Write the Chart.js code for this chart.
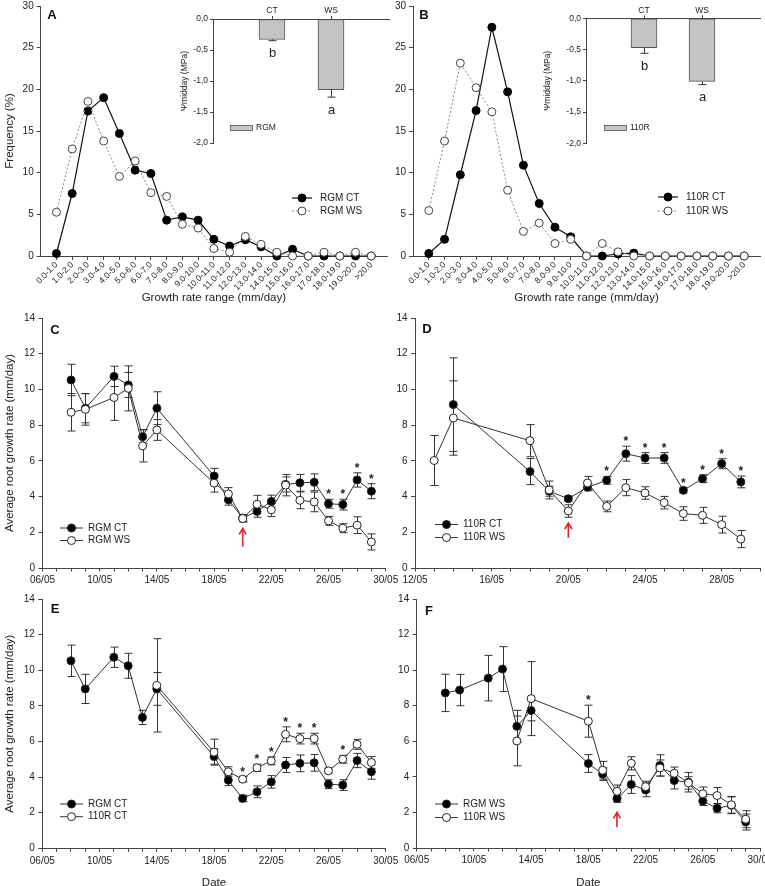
<!DOCTYPE html>
<html>
<head>
<meta charset="utf-8">
<script src="https://cdn.jsdelivr.net/npm/chart.js@4.4.1/dist/chart.umd.min.js"></script>
<style>
html,body{margin:0;padding:0;overflow:hidden;background:#fff;width:765px;height:886px;}
canvas{position:absolute;}
</style>
</head>
<body>
<script>
// ================= DATA =================
const freqCategories = ['0.0-1.0','1.0-2.0','2.0-3.0','3.0-4.0','4.0-5.0','5.0-6.0','6.0-7.0','7.0-8.0','8.0-9.0','9.0-10.0','10.0-11.0','11.0-12.0','12.0-13.0','13.0-14.0','14.0-15.0','15.0-16.0','16.0-17.0','17.0-18.0','18.0-19.0','19.0-20.0','>20.0'];
const freqRgmCT = [0.3, 7.5, 17.4, 19.0, 14.7, 10.3, 9.9, 4.3, 4.7, 4.3, 2.0, 1.2, 1.95, 1.1, 0, 0.8, 0, 0, 0, 0, 0];
const freqRgmWS = [5.25, 12.85, 18.55, 13.8, 9.55, 11.4, 7.6, 7.15, 3.8, 3.35, 0.9, 0.45, 2.35, 1.4, 0.45, 0, 0, 0.45, 0, 0.45, 0];
const freq110CT = [0.3, 2.0, 9.75, 17.45, 27.45, 19.7, 10.9, 6.3, 3.45, 2.3, 0, 0, 0.25, 0.35, 0, 0, 0, 0, 0, 0, 0];
const freq110WS = [5.45, 13.8, 23.15, 20.2, 17.3, 7.9, 2.95, 3.95, 1.5, 2.0, 0, 1.5, 0.5, 0, 0, 0, 0, 0, 0, 0, 0];

const psiGroups = ['CT', 'WS'];
const psiRgm = [-0.33, -1.14];
const psiRgmErr = [0.02, 0.12];
const psi110 = [-0.47, -1.01];
const psi110Err = [0.09, 0.05];
const psiLetters = ['b', 'a'];
const psiTicks = [0, -0.5, -1.0, -1.5, -2.0];

const rgmDays = [8, 9, 11, 12, 13, 14, 18, 19, 20, 21, 22, 23, 24, 25, 26, 27, 28, 29];
const rgmCT = [10.53, 8.95, 10.73, 10.25, 7.35, 8.95, 5.15, 3.82, 2.8, 3.17, 3.73, 4.68, 4.77, 4.8, 3.6, 3.55, 4.93, 4.3];
const rgmCTErr = [0.88, 0.82, 0.57, 0.7, 0.4, 0.92, 0.43, 0.3, 0.18, 0.33, 0.35, 0.42, 0.47, 0.47, 0.25, 0.3, 0.4, 0.42];
const rgmWS = [8.72, 8.88, 9.55, 10.06, 6.84, 7.73, 4.75, 4.15, 2.77, 3.57, 3.26, 4.64, 3.79, 3.7, 2.64, 2.23, 2.4, 1.46];
const rgmWSErr = [1.05, 0.88, 1.28, 1.26, 0.9, 0.58, 0.5, 0.35, 0.2, 0.5, 0.38, 0.6, 0.47, 0.55, 0.25, 0.25, 0.47, 0.45];

const r110CTDays = [14, 18, 19, 20, 21, 22, 23, 24, 25, 26, 27, 28, 29];
const r110CT = [9.15, 5.4, 4.3, 3.88, 4.52, 4.91, 6.4, 6.16, 6.16, 4.35, 5.0, 5.84, 4.82];
const r110CTErr = [2.62, 0.73, 0.28, 0.15, 0.2, 0.22, 0.42, 0.3, 0.3, 0.15, 0.22, 0.28, 0.33];
const r110WSDays = [13, 14, 18, 19, 20, 21, 22, 23, 24, 25, 26, 27, 28, 29];
const r110WS = [6.02, 8.4, 7.13, 4.37, 3.19, 4.76, 3.45, 4.5, 4.2, 3.66, 3.05, 2.95, 2.43, 1.62];
const r110WSErr = [1.4, 2.08, 0.9, 0.5, 0.35, 0.37, 0.3, 0.45, 0.35, 0.35, 0.38, 0.45, 0.47, 0.48];

const dateTicksFull = ['06/05', '10/05', '14/05', '18/05', '22/05', '26/05', '30/05'];
const dateTicksD = ['12/05', '16/05', '20/05', '24/05', '28/05'];
const starsC = [26, 27, 28, 29];
const starsD = [22, 23, 24, 25, 26, 27, 28, 29];
const starsE = [20, 21, 22, 23, 24, 25, 27];
const starsF = [18];

// ================= STYLE / HELPERS =================
const FONT = "'Liberation Sans', Arial, Helvetica, sans-serif";
const AX = '#444';
Chart.defaults.font.family = FONT;
Chart.defaults.color = '#222';
Chart.defaults.animation = false;
Chart.defaults.responsive = false;
Chart.defaults.plugins.legend.display = false;
Chart.defaults.plugins.tooltip.enabled = false;

function mk(left, top, w, h) {
  const c = document.createElement('canvas');
  c.width = w; c.height = h;
  c.style.left = left + 'px'; c.style.top = top + 'px';
  c.style.width = w + 'px'; c.style.height = h + 'px';
  document.body.appendChild(c);
  return c;
}
function zeroPad(s) { s.paddingLeft = 0; s.paddingRight = 0; s.paddingTop = 0; s.paddingBottom = 0; }
function fixW(w) { return s => { s.width = w; zeroPad(s); }; }
function fixH(h) { return s => { s.height = h; zeroPad(s); }; }
function grid(tl) { return { display: true, drawOnChartArea: false, drawTicks: true, tickLength: tl, color: AX, lineWidth: 1, offset: false }; }
const border = { display: true, color: AX, width: 1 };

const decor = {
  id: 'decor',
  beforeDatasetsDraw(chart, args, o) {
    const ctx = chart.ctx, xs = chart.scales.x, ys = chart.scales.y;
    chart.data.datasets.forEach(ds => {
      if (!ds.errs || ds.errDown) return;
      ctx.save(); ctx.strokeStyle = '#333'; ctx.lineWidth = 1;
      ds.data.forEach((p, i) => {
        const e = ds.errs[i]; if (e == null) return;
        const x = Math.round(xs.getPixelForValue(p.x)) + 0.5;
        const a = ys.getPixelForValue(p.y + e), b = ys.getPixelForValue(p.y - e);
        const cw = 4;
        ctx.beginPath();
        ctx.moveTo(x, a); ctx.lineTo(x, b);
        ctx.moveTo(x - cw, a); ctx.lineTo(x + cw, a);
        ctx.moveTo(x - cw, b); ctx.lineTo(x + cw, b);
        ctx.stroke();
      });
      ctx.restore();
    });
  },
  afterDatasetsDraw(chart, args, o) {
    const ctx = chart.ctx, xs = chart.scales.x, ys = chart.scales.y;
    chart.data.datasets.forEach(ds => {
      if (!ds.errs || !ds.errDown) return;
      ctx.save(); ctx.strokeStyle = '#333'; ctx.lineWidth = 1;
      ds.data.forEach((p, i) => {
        const x = Math.round(xs.getPixelForValue(p.x)) + 0.5;
        const a = ys.getPixelForValue(p.y), b = ys.getPixelForValue(p.y - ds.errs[i]);
        ctx.beginPath(); ctx.moveTo(x, a); ctx.lineTo(x, b);
        ctx.moveTo(x - 4, b); ctx.lineTo(x + 4, b); ctx.stroke();
        if (ds.letters) {
          ctx.fillStyle = '#222'; ctx.font = '13px ' + FONT;
          ctx.textAlign = 'center'; ctx.textBaseline = 'middle';
          ctx.fillText(ds.letters[i], x, b + 13);
        }
      });
      ctx.restore();
    });
    if (o.stars) {
      ctx.save(); ctx.fillStyle = '#222'; ctx.font = 'bold 12px ' + FONT;
      ctx.textAlign = 'center'; ctx.textBaseline = 'alphabetic';
      o.stars.forEach(d => {
        let top = -Infinity;
        chart.data.datasets.forEach(ds => ds.data.forEach((p, i) => {
          if (p.x === d) top = Math.max(top, p.y + (ds.errs ? ds.errs[i] : 0));
        }));
        if (top === -Infinity) return;
        ctx.fillText('*', xs.getPixelForValue(d), ys.getPixelForValue(top) - 1);
      });
      ctx.restore();
    }
    if (o.arrow) {
      const x = xs.getPixelForValue(o.arrow.x);
      const yt = ys.getPixelForValue(o.arrow.tip), yb = ys.getPixelForValue(o.arrow.tail);
      ctx.save(); ctx.strokeStyle = '#e3242b'; ctx.lineWidth = 1.6;
      ctx.beginPath(); ctx.moveTo(x, yb); ctx.lineTo(x, yt);
      ctx.moveTo(x - 3.5, yt + 6); ctx.lineTo(x, yt); ctx.lineTo(x + 3.5, yt + 6);
      ctx.stroke(); ctx.restore();
    }
  },
  afterDraw(chart, args, o) {
    const ctx = chart.ctx;
    const ox = chart.canvas.offsetLeft, oy = chart.canvas.offsetTop;
    if (o.letter) {
      ctx.save(); ctx.fillStyle = '#111'; ctx.font = 'bold 13px ' + FONT;
      ctx.textAlign = 'center'; ctx.textBaseline = 'middle';
      ctx.fillText(o.letter.text, o.letter.x - ox, o.letter.y - oy);
      ctx.restore();
    }
    if (o.legend) {
      const L = o.legend;
      chart.data.datasets.forEach((ds, i) => {
        const y = L.y - oy + i * L.dy, x0 = L.x - ox;
        ctx.save();
        ctx.strokeStyle = ds.borderColor; ctx.lineWidth = ds.borderWidth;
        ctx.setLineDash(ds.borderDash || []);
        ctx.beginPath(); ctx.moveTo(x0, y); ctx.lineTo(x0 + L.len, y); ctx.stroke();
        ctx.setLineDash([]);
        ctx.beginPath(); ctx.arc(x0 + L.len / 2, y, 4, 0, Math.PI * 2);
        ctx.fillStyle = ds.pointBackgroundColor; ctx.fill();
        ctx.strokeStyle = ds.pointBorderColor; ctx.lineWidth = 1; ctx.stroke();
        ctx.fillStyle = '#222'; ctx.font = '10px ' + FONT;
        ctx.textAlign = 'left'; ctx.textBaseline = 'middle';
        ctx.fillText(ds.label, x0 + L.len + L.gap, y);
        ctx.restore();
      });
    }
    if (o.swatch) {
      const S = o.swatch, ds = chart.data.datasets[0];
      const x0 = S.x - ox, y0 = S.y - oy;
      ctx.save();
      ctx.fillStyle = ds.backgroundColor; ctx.fillRect(x0, y0 - 2.5, 23, 5);
      ctx.strokeStyle = ds.borderColor; ctx.lineWidth = 0.8; ctx.strokeRect(x0 + 0.5, y0 - 2.5, 22, 5);
      ctx.fillStyle = '#222'; ctx.font = '8.5px ' + FONT; ctx.textAlign = 'left'; ctx.textBaseline = 'middle';
      ctx.fillText(ds.label, x0 + 26, y0);
      ctx.restore();
    }
  }
};
Chart.register(decor);

// ================= FREQUENCY PANELS (A, B) =================
function freqChart(canvas, ctVals, wsVals, names, cfg) {
  return new Chart(canvas, {
    type: 'line',
    data: {
      datasets: [
        { label: names[0], data: ctVals.map((v, i) => ({ x: i + 1, y: v })), borderColor: '#111', borderWidth: 1.2,
          pointRadius: 4, pointBackgroundColor: '#000', pointBorderColor: '#000', pointBorderWidth: 1, clip: false, order: 1 },
        { label: names[1], data: wsVals.map((v, i) => ({ x: i + 1, y: v })), borderColor: '#888', borderWidth: 1, borderDash: [2, 2],
          pointRadius: 4, pointBackgroundColor: '#fff', pointBorderColor: '#444', pointBorderWidth: 1, clip: false, order: 0 }
      ]
    },
    options: {
      layout: { padding: { left: 0, top: 6, right: cfg.padR, bottom: 0 } },
      scales: {
        x: {
          type: 'linear', min: 0, max: 22, offset: false,
          afterBuildTicks: s => { s.ticks = freqCategories.map((_, i) => ({ value: i + 1 })); },
          ticks: { autoSkip: false, minRotation: 45, maxRotation: 45, padding: 0, font: { size: 8.5 },
                   callback: v => freqCategories[v - 1] ?? '' },
          grid: grid(4), border,
          title: { display: true, text: 'Growth rate range (mm/day)', font: { size: 11.5 }, padding: { top: 0, bottom: 1.5 } },
          afterFit: fixH(50)
        },
        y: {
          min: 0, max: 30,
          ticks: { stepSize: 5, padding: 3, font: { size: 10 } },
          grid: grid(4), border,
          title: { display: cfg.yTitle, text: 'Frequency (%)', font: { size: 11.5 }, padding: { top: 2.6, bottom: 0 } },
          afterFit: fixW(cfg.yW)
        }
      },
      plugins: { decor: { letter: cfg.letter, legend: cfg.legend } }
    }
  });
}
freqChart(mk(0, 0, 392, 306), freqRgmCT, freqRgmWS, ['RGM CT', 'RGM WS'],
  { padR: 4.6, yW: 40.7, yTitle: true, letter: { text: 'A', x: 52, y: 15 },
    legend: { x: 292, y: 198, dy: 13, len: 20, gap: 8 } });
freqChart(mk(380, 0, 385, 306), freq110CT, freq110WS, ['110R CT', '110R WS'],
  { padR: 4.4, yW: 33, yTitle: false, letter: { text: 'B', x: 424, y: 15 },
    legend: { x: 658, y: 197, dy: 14, len: 20, gap: 8 } });

// ================= INSETS =================
function insetChart(canvas, vals, errs, name, cfg) {
  return new Chart(canvas, {
    type: 'bar',
    data: {
      datasets: [{ label: name, data: vals.map((v, i) => ({ x: i + 1, y: v })), errs, errDown: true, letters: psiLetters,
        backgroundColor: '#c4c4c4', borderColor: '#555', borderWidth: 1, barThickness: 26, borderSkipped: false }]
    },
    options: {
      layout: { padding: { left: 0, top: 0, right: cfg.padR, bottom: cfg.padB } },
      scales: {
        x: {
          type: 'linear', position: 'top', min: 0, max: 3, offset: false,
          afterBuildTicks: s => { s.ticks = psiGroups.map((_, i) => ({ value: i + 1 })); },
          ticks: { autoSkip: false, maxRotation: 0, padding: 0, font: { size: 8.5 }, callback: v => psiGroups[v - 1] ?? '' },
          grid: grid(3), border, afterFit: fixH(cfg.topH)
        },
        y: {
          min: -2, max: 0,
          afterBuildTicks: s => { s.ticks = psiTicks.map(v => ({ value: v })); },
          ticks: { padding: 2, font: { size: 8.5 }, callback: v => v.toFixed(1).replace('.', ',') },
          grid: grid(3), border,
          title: { display: true, text: 'Ψmidday (MPa)', font: { size: 8.5 }, padding: { top: cfg.tPad, bottom: 0 } },
          afterFit: fixW(63)
        }
      },
      plugins: { decor: { swatch: cfg.swatch } }
    }
  });
}
insetChart(mk(150, 0, 240, 160), psiRgm, psiRgmErr, 'RGM',
  { padR: 0, padB: 17, topH: 19, tPad: 29.5, swatch: { x: 230, y: 128 } });
insetChart(mk(523, 0, 242, 160), psi110, psi110Err, '110R',
  { padR: 5, padB: 16.7, topH: 18.3, tPad: 19.5, swatch: { x: 604, y: 128 } });

// ================= TIME PANELS (C–F) =================
function tsDs(label, days, vals, errs, filled) {
  return { label, data: days.map((d, i) => ({ x: d, y: vals[i] })), errs,
    borderColor: '#333', borderWidth: 1, pointRadius: 4,
    pointBackgroundColor: filled ? '#000' : '#fff', pointBorderColor: '#222', pointBorderWidth: 1,
    clip: false, order: filled ? 1 : 0 };
}
function tsChart(canvas, datasets, cfg) {
  const labelDays = cfg.ticks.map(t => parseInt(t, 10));
  return new Chart(canvas, {
    type: 'line',
    data: { datasets },
    options: {
      layout: { padding: { left: 0, top: cfg.padT, right: cfg.padR, bottom: 0 } },
      scales: {
        x: {
          type: 'linear', min: cfg.min, max: cfg.max, offset: false,
          afterBuildTicks: s => { const t = []; for (let d = cfg.min; d <= cfg.max; d++) t.push({ value: d }); s.ticks = t; },
          ticks: { autoSkip: false, minRotation: 0, maxRotation: 0, padding: 3, font: { size: 10 },
                   callback: v => { const k = labelDays.indexOf(v); return k >= 0 ? cfg.ticks[k] : ''; } },
          grid: grid(3.5), border,
          title: { display: cfg.dateTitle, text: 'Date', font: { size: 11.5 }, padding: { top: 0, bottom: 6.4 } },
          afterFit: fixH(cfg.xH)
        },
        y: {
          min: 0, max: 14,
          ticks: { stepSize: 2, padding: 3.5, font: { size: 10 } },
          grid: grid(4), border,
          title: { display: cfg.yTitle, text: 'Average root growth rate (mm/day)', font: { size: 11.5 }, padding: { top: 3.1, bottom: 0 } },
          afterFit: fixW(cfg.yW)
        }
      },
      plugins: { decor: { letter: cfg.letter, legend: cfg.legend, stars: cfg.stars, arrow: cfg.arrow } }
    }
  });
}

tsChart(mk(0, 300, 400, 296), [
    tsDs('RGM CT', rgmDays, rgmCT, rgmCTErr, true),
    tsDs('RGM WS', rgmDays, rgmWS, rgmWSErr, false)
  ], { min: 6, max: 30, ticks: dateTicksFull, padT: 18, padR: 14.3, xH: 28, yW: 42.5, yTitle: true, dateTitle: false,
       letter: { text: 'C', x: 55, y: 330 }, legend: { x: 60, y: 528, dy: 12.5, len: 23, gap: 5 },
       stars: starsC, arrow: { x: 20, tip: 2.22, tail: 1.19 } });

tsChart(mk(385, 300, 380, 296), [
    tsDs('110R CT', r110CTDays, r110CT, r110CTErr, true),
    tsDs('110R WS', r110WSDays, r110WS, r110WSErr, false)
  ], { min: 12, max: 30, ticks: dateTicksD, padT: 18, padR: 3, xH: 28, yW: 30, yTitle: false, dateTitle: false,
       letter: { text: 'D', x: 427, y: 329 }, legend: { x: 435, y: 524.5, dy: 13, len: 23, gap: 5 },
       stars: starsD, arrow: { x: 20, tip: 2.52, tail: 1.7 } });

tsChart(mk(0, 586, 400, 310), [
    tsDs('RGM CT', rgmDays, rgmCT, rgmCTErr, true),
    tsDs('110R CT', r110CTDays, r110CT, r110CTErr, false)
  ], { min: 6, max: 30, ticks: dateTicksFull, padT: 13, padR: 14.3, xH: 47.7, yW: 42.3, yTitle: true, dateTitle: true,
       letter: { text: 'E', x: 55, y: 609 }, legend: { x: 60, y: 804, dy: 12.7, len: 23, gap: 5 },
       stars: starsE, arrow: null });

tsChart(mk(385, 586, 380, 310), [
    tsDs('RGM WS', rgmDays, rgmWS, rgmWSErr, true),
    tsDs('110R WS', r110WSDays, r110WS, r110WSErr, false)
  ], { min: 6, max: 30, ticks: dateTicksFull, padT: 13, padR: 4.3, xH: 48, yW: 31.7, yTitle: false, dateTitle: true,
       letter: { text: 'F', x: 429, y: 611 }, legend: { x: 435, y: 804, dy: 13.5, len: 23, gap: 5 },
       stars: starsF, arrow: { x: 20, tip: 2.0, tail: 1.17 } });
</script>
</body>
</html>
